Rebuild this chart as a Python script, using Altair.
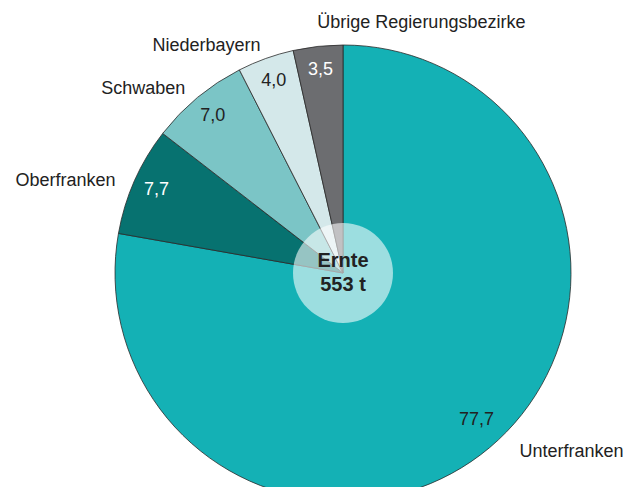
import altair as alt
import pandas as pd

regions = ["Unterfranken", "Oberfranken", "Schwaben", "Niederbayern", "Übrige Regierungsbezirke"]
shares = [77.7, 7.7, 7.0, 4.0, 3.5]
value_labels = ["77,7", "7,7", "7,0", "4,0", "3,5"]
colors = ["#14b1b5", "#077270", "#7bc5c6", "#d4e8ea", "#6c6d70"]
label_colors = ["#222222", "#ffffff", "#222222", "#222222", "#ffffff"]
center_text = ["Ernte", "553 t"]

df = pd.DataFrame({
    "region": regions,
    "share": shares,
    "vlabel": value_labels,
    "order": list(range(len(regions))),
    "lcolor": label_colors,
})

CX, CY = 335, 265
FONT = "Liberation Sans"
FS = 18

base = alt.Chart(df).encode(
    theta=alt.Theta("share:Q", stack=True),
    order=alt.Order("order:Q"),
    x=alt.value(CX),
    y=alt.value(CY),
)

pie = base.mark_arc(radius=228, stroke="#2a2a2a", strokeWidth=0.8).encode(
    color=alt.Color("region:N", scale=alt.Scale(domain=regions, range=colors), legend=None)
)

vals_big = base.mark_text(radius=200, fontSize=FS, font=FONT, dx=5, dy=-6).encode(
    text=alt.condition("datum.order == 0", "vlabel:N", alt.value("")),
    color=alt.Color("lcolor:N", scale=None),
)
vals_small = base.mark_text(radius=204, fontSize=FS, font=FONT).encode(
    text=alt.condition("datum.order > 0", "vlabel:N", alt.value("")),
    color=alt.Color("lcolor:N", scale=None),
)

names_first = base.mark_text(radius=262, fontSize=FS, font=FONT, align="left", color="#222222",
                             dx=8, dy=-22).encode(
    text=alt.condition("datum.order == 0", "region:N", alt.value("")),
)
names_right = base.mark_text(radius=252, fontSize=FS, font=FONT, align="left", color="#222222",
                             dx=2).encode(
    text=alt.condition("datum.order == 4", "region:N", alt.value("")),
)
names_left = base.mark_text(radius=252, fontSize=FS, font=FONT, align="right", color="#222222",
                            dx=3, dy=10).encode(
    text=alt.condition("datum.order >= 1 && datum.order <= 3", "region:N", alt.value("")),
)

center = alt.Chart(pd.DataFrame({"t": [0]})).mark_arc(
    radius=50, theta=0, theta2=6.2832, color="#ffffff", opacity=0.58
).encode(x=alt.value(CX), y=alt.value(CY))

center_lbl = alt.Chart(pd.DataFrame({"t": [center_text]})).mark_text(
    fontSize=20, fontWeight="bold", font=FONT, color="#222222", lineHeight=24, baseline="middle"
).encode(x=alt.value(CX), y=alt.value(CY - 12), text="t")

chart = alt.layer(pie, vals_big, vals_small, names_first, names_right, names_left, center, center_lbl).properties(
    width=626, height=479, autosize=alt.AutoSizeParams(type="none"), padding=0
).configure_view(stroke=None)

chart.save("out.html", embed_options={"renderer": "svg", "actions": False})
